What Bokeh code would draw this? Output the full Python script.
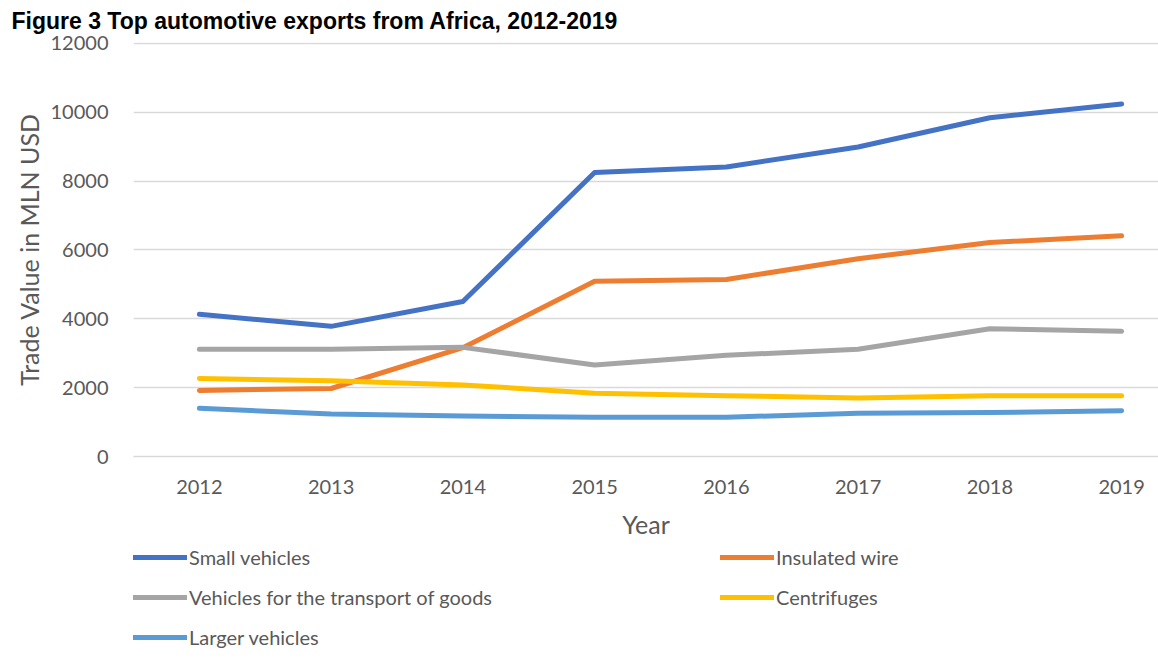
from bokeh.plotting import figure
from bokeh.layouts import column
from bokeh.models import Range1d, FixedTicker, Legend, LegendItem, Title
from bokeh.embed import file_html
from bokeh.resources import INLINE

title_text = "Figure 3 Top automotive exports from Africa, 2012-2019"
years = [2012, 2013, 2014, 2015, 2016, 2017, 2018, 2019]
small_vehicles = [4130, 3780, 4500, 8250, 8410, 8990, 9840, 10240]
insulated_wire = [1920, 1975, 3160, 5090, 5140, 5745, 6215, 6410]
goods_vehicles = [3115, 3115, 3170, 2660, 2940, 3115, 3710, 3635]
centrifuges = [2265, 2200, 2080, 1840, 1765, 1700, 1765, 1765]
larger_vehicles = [1400, 1235, 1175, 1140, 1140, 1255, 1275, 1330]
y_ticks = [0, 2000, 4000, 6000, 8000, 10000, 12000]

series = [
    ("Small vehicles", small_vehicles, "#4472C4"),
    ("Insulated wire", insulated_wire, "#ED7D31"),
    ("Vehicles for the transport of goods", goods_vehicles, "#A5A5A5"),
    ("Centrifuges", centrifuges, "#FFC000"),
    ("Larger vehicles", larger_vehicles, "#5B9BD5"),
]

FONT = "Lato"
TXT = "#595959"
W = 1158
MAIN_H = 545

p = figure(width=W, height=MAIN_H, output_backend="svg", toolbar_location=None,
           x_range=Range1d(2011.5, 2019.28), y_range=Range1d(0, 12025),
           min_border_left=133, min_border_right=0, min_border_top=40, min_border_bottom=89)
p.title = Title(text=title_text, align="left", offset=-122, standoff=14,
                vertical_align="top",
                text_font="Liberation Sans", text_font_style="bold",
                text_font_size="23px", text_color="black")
p.outline_line_color = None
p.background_fill_color = "white"
p.border_fill_color = "white"

for name, vals, col in series:
    p.line(years, vals, line_color=col, line_width=5, line_cap="round", line_join="round")

# axes
p.xaxis.ticker = FixedTicker(ticks=years)
p.yaxis.ticker = FixedTicker(ticks=y_ticks)
for ax in (p.xaxis[0], p.yaxis[0]):
    ax.major_tick_line_color = None
    ax.minor_tick_line_color = None
    ax.major_label_text_font = FONT
    ax.major_label_text_font_size = "20px"
    ax.major_label_text_color = TXT
    ax.axis_label_text_font = FONT
    ax.axis_label_text_font_size = "25px"
    ax.axis_label_text_font_style = "normal"
    ax.axis_label_text_color = TXT
p.yaxis.axis_line_color = None
p.xaxis.axis_line_color = "#d9d9d9"
p.xaxis.axis_line_width = 1.5
p.yaxis.major_label_standoff = 19
p.xaxis.major_label_standoff = 17
p.yaxis.axis_label = "Trade Value in MLN USD"
p.xaxis.axis_label = "Year"
p.yaxis.axis_label_standoff = 4
p.xaxis.axis_label_standoff = 12

p.xgrid.grid_line_color = None
p.ygrid.grid_line_color = "#d9d9d9"
p.ygrid.grid_line_width = 1.5

# legend strip below the chart (its lines use the same data but lie outside the view)
LEG_H = 668 - MAIN_H
pl = figure(width=W, height=LEG_H, output_backend="svg", toolbar_location=None,
            x_range=Range1d(0, 1), y_range=Range1d(0, 1),
            x_axis_type=None, y_axis_type=None, min_border=0)
pl.outline_line_color = None
pl.grid.grid_line_color = None
pl.border_fill_color = "white"

leg_renderers = {}
for name, vals, col in series:
    leg_renderers[name] = pl.line(years, vals, line_color=col, line_width=5,
                                  line_cap="round", line_join="round")


def make_legend(names, loc):
    lg = Legend(items=[LegendItem(label=n, renderers=[leg_renderers[n]]) for n in names],
                location=loc, orientation="vertical",
                padding=0, margin=0, spacing=16, glyph_width=54, glyph_height=20,
                label_height=20, label_standoff=2, border_line_color=None,
                background_fill_alpha=0,
                label_text_font=FONT, label_text_font_size="20px", label_text_color=TXT)
    pl.add_layout(lg)


make_legend(["Small vehicles", "Vehicles for the transport of goods", "Larger vehicles"], (0, 19))
make_legend(["Insulated wire", "Centrifuges"], (587, 59))

layout = column(p, pl, spacing=0)
open("out.html", "w").write(file_html(layout, INLINE))
